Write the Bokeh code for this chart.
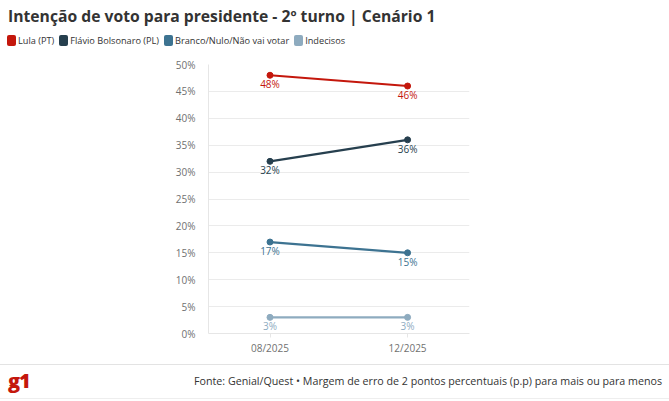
from bokeh.plotting import figure
from bokeh.models import ColumnDataSource, Range1d, FixedTicker, Div
from bokeh.layouts import column
from bokeh.core.properties import value
from bokeh.embed import file_html
from bokeh.resources import INLINE

# ---- data ----
periods = ["08/2025", "12/2025"]
lula = [48, 46]
flavio = [32, 36]
branco = [17, 15]
indecisos = [3, 3]
series_names = ["Lula (PT)", "Flávio Bolsonaro (PL)", "Branco/Nulo/Não vai votar", "Indecisos"]
y_ticks = [0, 5, 10, 15, 20, 25, 30, 35, 40, 45, 50]
title_text = "Intenção de voto para presidente - 2º turno | Cenário 1"
source_text = "Fonte: Genial/Quest • Margem de erro de 2 pontos percentuais (p.p) para mais ou para menos"

colors = ["#c4170c", "#263f4e", "#3d7391", "#8eabbf"]

FONT = "Open Sans"
W = 669
HEADER_H = 54
FIG_H = 308
FOOT_H = 39

p = figure(width=W, height=FIG_H, output_backend="svg", toolbar_location=None,
           x_range=Range1d(-0.447, 1.45), y_range=Range1d(0, 50),
           min_border_left=208, min_border_right=200, min_border_top=10,
           min_border_bottom=FIG_H - 10 - 269)
p.outline_line_color = None
p.background_fill_color = "white"
p.border_fill_color = "white"

xs = list(range(len(periods)))
all_series = [lula, flavio, branco, indecisos]
for vals, c in zip(all_series, colors):
    src = ColumnDataSource(dict(x=xs, y=vals, t=[f"{v}%" for v in vals]))
    p.line("x", "y", source=src, line_color=c, line_width=2.2)
    p.scatter("x", "y", source=src, size=6, fill_color=c, line_color=c)
    p.text(x="x", y="y", text="t", source=src, text_color=c, text_font_size="10px",
           text_font=value(FONT), text_align="center", text_baseline="middle",
           y_offset=9)

# axes
p.xaxis.ticker = FixedTicker(ticks=xs)
p.xaxis.major_label_overrides = {i: s for i, s in enumerate(periods)}
p.yaxis.ticker = FixedTicker(ticks=y_ticks)
p.yaxis.major_label_overrides = {v: f"{v}%" for v in y_ticks}
for ax in (p.xaxis, p.yaxis):
    ax.axis_line_color = "#e6e6e6"
    ax.major_label_text_color = "#707070"
    ax.major_label_text_font = FONT
    ax.major_label_text_font_size = "10px"
    ax.minor_tick_line_color = None
p.yaxis.major_tick_line_color = None
p.yaxis.major_label_standoff = 7
p.xaxis.major_tick_line_color = "#e6e6e6"
p.xaxis.major_tick_in = 0
p.xaxis.major_tick_out = 4
p.xaxis.major_label_standoff = 3
p.xgrid.grid_line_color = None
p.ygrid.grid_line_color = "#ebebeb"

# header: title + legend
legend_html = ""
for name, c in zip(series_names, colors):
    legend_html += (f'<span style="display:inline-block;width:9px;height:11px;border-radius:2px;'
                    f'background:{c};margin-right:2px;"></span>'
                    f'<span style="margin-right:5px;">{name}</span>')
header = Div(width=W, height=HEADER_H, margin=0, text=(
    f'<div style="position:relative;width:{W}px;height:{HEADER_H}px;font-family:\'Open Sans\';">'
    f'<div style="position:absolute;left:8px;top:5px;font-size:15.7px;font-weight:700;'
    f'color:#333333;line-height:23px;white-space:nowrap;">{title_text}</div>'
    f'<div style="position:absolute;left:7px;top:35px;height:11px;font-size:9.2px;color:#333333;'
    f'display:flex;align-items:center;white-space:nowrap;line-height:11px;">{legend_html}</div>'
    '</div>'))

footer = Div(width=W, height=FOOT_H, margin=0, text=(
    f'<div style="width:{W}px;height:{FOOT_H - 4}px;margin-top:2px;border-top:1px solid #e3e3e3;'
    'border-bottom:1px solid #eeeeee;display:flex;align-items:center;'
    'justify-content:space-between;box-sizing:border-box;padding:0 7px 0 8px;">'
    '<span style="font-family:\'Open Sans\';font-weight:800;font-size:20px;color:#c4170c;'
    'letter-spacing:-1px;">g1</span>'
    f'<span style="font-family:\'Open Sans\';font-size:10.7px;color:#333333;">{source_text}</span>'
    '</div>'))

layout = column(header, p, footer, spacing=0)
open("out.html", "w").write(file_html(layout, INLINE))
